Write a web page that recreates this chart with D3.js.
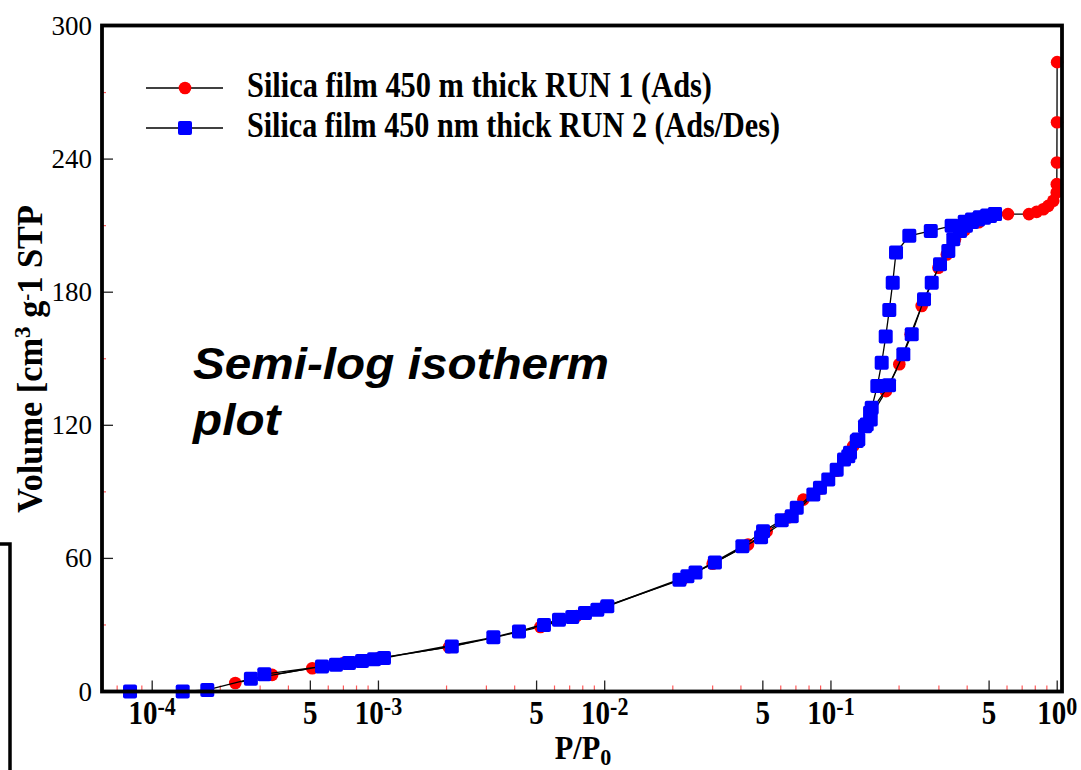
<!DOCTYPE html>
<html>
<head>
<meta charset="utf-8">
<script src="https://cdn.jsdelivr.net/npm/d3@7/dist/d3.min.js"></script>
<style>
  html, body { margin: 0; padding: 0; background: #fff; }
  svg { display: block; }
</style>
</head>
<body>
<svg id="chart" width="1081" height="770"></svg>
<script>
// RUN 1 adsorption (relative pressure, adsorbed volume)
const run1P = [2.33e-4, 3.39e-4, 5.1e-4, 7.0e-4, 1.0e-3, 2.05e-3, 3.2e-3, 5.2e-3, 7.5e-3, 1.0e-2,
  2.2e-2, 3.0e-2, 4.3e-2, 5.2e-2, 6.5e-2, 7.55e-2, 9.0e-2, 0.106, 0.1253, 0.150,
  0.175, 0.2005, 0.225, 0.2518, 0.2985, 0.325, 0.3534, 0.39, 0.45, 0.52,
  0.606, 0.750, 0.811, 0.868, 0.913, 0.961, 0.995, 0.996, 0.997, 0.998, 0.999];
const run1V = [3.8, 7.5, 10.5, 12.8, 15.0, 20.0, 24.2, 29.1, 34.0, 38.3,
  50.5, 57.6, 66.2, 72.2, 78.5, 86.5, 91.5, 99.5, 110.6, 124.0,
  135.4, 147.5, 161.0, 173.8, 191.0, 197.0, 203.9, 208.0, 211.5, 214.5,
  215.2, 215.2, 216.2, 217.4, 218.9, 221.2, 225.0, 228.7, 238.5, 256.6, 283.7];

// RUN 2 adsorption branch
const run2AdsP = [7.98e-5, 1.364e-4, 1.752e-4, 2.73e-4, 5.63e-4, 7.41e-4, 9.56e-4, 2.11e-3, 4.18e-3, 6.28e-3,
  8.18e-3, 1.027e-2, 2.14e-2, 2.52e-2, 4.06e-2, 5.01e-2, 6.06e-2, 7.06e-2, 8.94e-2, 0.106,
  0.1214, 0.130, 0.1439, 0.1489, 0.1806, 0.2089, 0.2275, 0.2578, 0.2789, 0.3034,
  0.3302, 0.3474, 0.372, 0.395, 0.42, 0.4467, 0.4749, 0.5048, 0.5312];
const run2AdsV = [0, 0, 0.7, 5.7, 11.3, 12.9, 14.5, 20.3, 27.1, 32.4,
  35.4, 38.4, 50.4, 53.7, 65.5, 72.2, 77.2, 82.8, 91.8, 100,
  107.6, 112.9, 120.4, 125.7, 138.1, 152, 161, 176.8, 184.3, 192.6,
  198.6, 203.9, 207.6, 210, 211.7, 212.8, 213.6, 214.3, 215.2];

// RUN 2 desorption branch
const run2DesP = [0.5312, 0.49, 0.455, 0.42, 0.39, 0.3415, 0.2762, 0.2220, 0.1939, 0.1875,
  0.1811, 0.1746, 0.1676, 0.1603, 0.1514, 0.1499, 0.1414, 0.1321, 0.1193, 0.1142,
  0.0973, 0.0836, 0.0671, 0.0491, 0.0307, 0.0232, 9.28e-3, 7.19e-3, 5.39e-3, 3.22e-3,
  1.058e-3, 8.46e-4, 6.49e-4, 3.13e-4];
const run2DesV = [215.2, 214.6, 213.8, 212.8, 211.8, 209.9, 207.6, 205.4, 197.9, 184.3,
  172, 160, 148.2, 137.7, 127.9, 122.6, 119.6, 113.6, 106.1, 104.6,
  95.6, 88.8, 79, 69.5, 58.2, 51.9, 36.9, 33.6, 30, 24.4,
  15.1, 13.7, 12.1, 7.8];

// Axis ticks and labels
const xLabelValues = [1e-4, 5e-4, 1e-3, 5e-3, 1e-2, 5e-2, 1e-1, 5e-1, 1];
const xLabelBase   = ["10", "5", "10", "5", "10", "5", "10", "5", "10"];
const xLabelExp    = ["-4", "", "-3", "", "-2", "", "-1", "", "0"];
const yMajorTicks = [0, 60, 120, 180, 240, 300];
const yMinorTicks = [30, 90, 150, 210, 270];
const legendLabels = ["Silica film 450 m thick RUN 1 (Ads)", "Silica film 450 nm thick RUN 2 (Ads/Des)"];

const svg = d3.select("#chart");
const serif = "'Liberation Serif', 'Times New Roman', serif";

const plotL = 102, plotR = 1062, plotT = 25.5, plotB = 691.5;
const x = d3.scaleLog().domain([6e-5, 1.05]).range([plotL, plotR]);
const y = d3.scaleLinear().domain([0, 300]).range([plotB, 26]);

const run1 = run1P.map((p, i) => [p, run1V[i]]);
const run2 = run2AdsP.map((p, i) => [p, run2AdsV[i]])
  .concat(run2DesP.map((p, i) => [p, run2DesV[i]]));

const line = d3.line().x(d => x(d[0])).y(d => y(d[1]));

// ticks on the bottom axis: 1 and 5 multiples black, the rest red
const logTicks = x.ticks();
const mant = v => Math.round(v / Math.pow(10, Math.floor(Math.log10(v) + 1e-9)));
const g = svg.append("g");
g.selectAll("line.xminor")
  .data(logTicks.filter(v => mant(v) !== 1 && mant(v) !== 5))
  .join("line")
  .attr("x1", d => x(d)).attr("x2", d => x(d))
  .attr("y1", plotB).attr("y2", plotB - 6)
  .attr("stroke", "#ff5a5a").attr("stroke-width", 1.2);
g.selectAll("line.xmajor")
  .data(logTicks.filter(v => mant(v) === 1 || mant(v) === 5))
  .join("line")
  .attr("x1", d => x(d)).attr("x2", d => x(d))
  .attr("y1", plotB).attr("y2", plotB - 11)
  .attr("stroke", "#222").attr("stroke-width", 1.3);

// ticks on the left axis
g.selectAll("line.ymajor").data(yMajorTicks).join("line")
  .attr("x1", plotL).attr("x2", plotL + 11)
  .attr("y1", d => y(d)).attr("y2", d => y(d))
  .attr("stroke", "#222").attr("stroke-width", 1.3);
g.selectAll("line.yminor").data(yMinorTicks).join("line")
  .attr("x1", plotL).attr("x2", plotL + 4)
  .attr("y1", d => y(d)).attr("y2", d => y(d))
  .attr("stroke", "#ff5a5a").attr("stroke-width", 1.2);

// y tick labels
svg.append("g").selectAll("text").data(yMajorTicks).join("text")
  .attr("x", 92).attr("y", d => y(d) + 9)
  .attr("text-anchor", "end")
  .attr("font-family", serif).attr("font-size", 27)
  .text(d => d);

// x tick labels
const xl = svg.append("g").selectAll("text").data(xLabelValues).join("text")
  .attr("text-anchor", "middle")
  .attr("font-family", serif).attr("font-weight", "bold").attr("font-size", 33)
  .attr("transform", d => `translate(${x(d)},724) scale(0.88,1)`);
xl.append("tspan").text((d, i) => xLabelBase[i]);
xl.append("tspan")
  .attr("font-size", 25).attr("dy", -9)
  .text((d, i) => xLabelExp[i]);

// curves
svg.append("path").datum(run1).attr("d", line)
  .attr("fill", "none").attr("stroke", "#000").attr("stroke-width", 1.3);
svg.append("g").selectAll("circle").data(run1).join("circle")
  .attr("cx", d => x(d[0])).attr("cy", d => y(d[1])).attr("r", 6.3)
  .attr("fill", "#ff0000");
svg.append("path").datum(run2).attr("d", line)
  .attr("fill", "none").attr("stroke", "#000").attr("stroke-width", 1.3);
svg.append("g").selectAll("rect").data(run2).join("rect")
  .attr("x", d => x(d[0]) - 7).attr("y", d => y(d[1]) - 7)
  .attr("width", 14).attr("height", 14).attr("rx", 2)
  .attr("fill", "#0000ff");

// frame
svg.append("rect")
  .attr("x", plotL).attr("y", plotT).attr("width", plotR - plotL).attr("height", plotB - plotT)
  .attr("fill", "none").attr("stroke", "#000").attr("stroke-width", 3.8);

// stray bracket at the lower left edge
svg.append("path").attr("d", "M0,544H10V770")
  .attr("fill", "none").attr("stroke", "#000").attr("stroke-width", 3.5);

// legend
const lg = svg.append("g");
const legRows = [88, 128];
legRows.forEach((ly, i) => {
  lg.append("line").attr("x1", 146).attr("x2", 223).attr("y1", ly).attr("y2", ly)
    .attr("stroke", "#000").attr("stroke-width", 1.3);
  if (i === 0) {
    lg.append("circle").attr("cx", 185).attr("cy", ly).attr("r", 6.3).attr("fill", "#ff0000");
  } else {
    lg.append("rect").attr("x", 178).attr("y", ly - 7).attr("width", 14).attr("height", 14)
      .attr("rx", 2).attr("fill", "#0000ff");
  }
  lg.append("text").attr("x", 247).attr("y", ly + 9)
    .attr("font-family", serif).attr("font-weight", "bold").attr("font-size", 36)
    .attr("textLength", i === 0 ? 465 : 533).attr("lengthAdjust", "spacingAndGlyphs")
    .text(legendLabels[i]);
});

// annotation
const ann = svg.append("text")
  .attr("font-family", "'Liberation Sans', Arial, sans-serif")
  .attr("font-weight", "bold").attr("font-style", "italic").attr("font-size", 45)
  .attr("transform", "translate(193,0) scale(1.06,1)");
ann.append("tspan").attr("x", 0).attr("y", 379).text("Semi-log isotherm");
ann.append("tspan").attr("x", 0).attr("y", 435).text("plot");

// x axis title
const xt = svg.append("text")
  .attr("text-anchor", "middle")
  .attr("font-family", serif).attr("font-weight", "bold").attr("font-size", 33)
  .attr("transform", "translate(583,759) scale(0.92,1)");
xt.append("tspan").text("P/P");
xt.append("tspan").attr("font-size", 24).attr("dy", 6).text("0");

// y axis title
const yt = svg.append("text")
  .attr("text-anchor", "middle")
  .attr("font-family", serif).attr("font-weight", "bold").attr("font-size", 36)
  .attr("transform", "translate(42,359) rotate(-90)")
  .attr("textLength", 308).attr("lengthAdjust", "spacingAndGlyphs");
yt.append("tspan").text("Volume [cm");
yt.append("tspan").attr("font-size", 24).attr("dy", -12).text("3");
yt.append("tspan").attr("dy", 12).text(" g");
yt.append("tspan").attr("font-size", 22).attr("dy", -9).text("-");
yt.append("tspan").attr("dy", 9).text("1 STP");
</script>
</body>
</html>
